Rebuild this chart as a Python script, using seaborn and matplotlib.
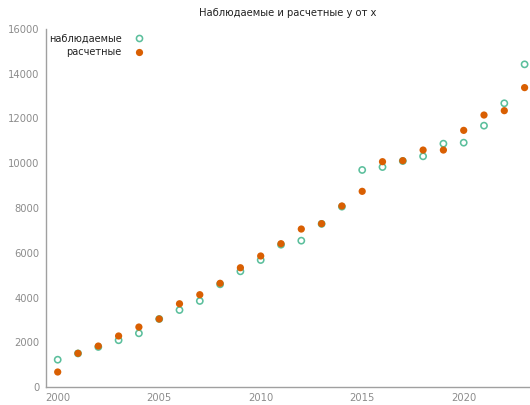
import matplotlib
matplotlib.use("Agg")
import matplotlib.pyplot as plt
import seaborn as sns
import pandas as pd
from matplotlib.lines import Line2D

# Years and the two series (observed vs. fitted values of y)
years = list(range(2000, 2024))
observed = [1220, 1500, 1790, 2090, 2400, 3040, 3440, 3845, 4590, 5170,
            5675, 6360, 6540, 7290, 8060, 9700, 9830, 10100, 10310, 10875,
            10920, 11680, 12680, 14420]
fitted = [670, 1505, 1830, 2280, 2680, 3040, 3720, 4125, 4635, 5330,
          5855, 6405, 7060, 7300, 8090, 8745, 10070, 10115, 10590, 10590,
          11470, 12155, 12350, 13380]

x_ticks = [2000, 2005, 2010, 2015, 2020]
y_ticks = list(range(0, 16001, 2000))

title = "Наблюдаемые и расчетные y от x"
label_obs = "наблюдаемые"
label_fit = "расчетные"

obs_color = "#5bbf9c"
fit_color = "#d95f02"
axis_grey = "#a0a0a0"
label_grey = "#8c8c8c"

sns.set_style("white")
plt.rcParams["font.family"] = ["DejaVu Sans"]

df = pd.DataFrame({"year": years, "observed": observed, "fitted": fitted})

fig = plt.figure(figsize=(5.30, 4.05), dpi=100)
ax = fig.add_axes([45.7 / 530, 18 / 405, (530 - 45.7) / 530, 358 / 405])

sns.scatterplot(data=df, x="year", y="observed", ax=ax, s=20,
                facecolors="none", edgecolor=obs_color, linewidth=1.15,
                zorder=2)
sns.scatterplot(data=df, x="year", y="fitted", ax=ax, s=27,
                color=fit_color, edgecolor="none", zorder=3)

ax.set_xlim(2000 - 12.0 / 20.3, 2000 + (530 - 57.7) / 20.3)
ax.set_ylim(0, 16000)
ax.set_xticks(x_ticks)
ax.set_yticks(y_ticks)
ax.set_xlabel("")
ax.set_ylabel("")

for side in ("top", "right"):
    ax.spines[side].set_visible(False)
for side in ("left", "bottom"):
    ax.spines[side].set_color(axis_grey)
    ax.spines[side].set_linewidth(1.0)

ax.tick_params(axis="both", direction="in", length=4, width=1.0,
               color=axis_grey, labelcolor=label_grey, labelsize=7.2)
ax.tick_params(axis="y", pad=4.5)
ax.tick_params(axis="x", pad=4)

ax.set_title(title, fontsize=7.2, color="#222222", pad=9.5)

handles = [
    Line2D([], [], linestyle="none", marker="o", markersize=4.4,
           markerfacecolor="none", markeredgecolor=obs_color,
           markeredgewidth=1.15, label=label_obs),
    Line2D([], [], linestyle="none", marker="o", markersize=5.2,
           markerfacecolor=fit_color, markeredgecolor="none",
           label=label_fit),
]
leg = ax.legend(handles=handles, loc="upper left", markerfirst=False,
                frameon=False, fontsize=7.0, handlelength=2.3,
                handletextpad=0.6, labelspacing=0.32,
                borderpad=0.0, bbox_to_anchor=(-0.003, 1.0))
for t in leg.get_texts():
    t.set_color("#222222")

fig.savefig("out.png", dpi=100)
